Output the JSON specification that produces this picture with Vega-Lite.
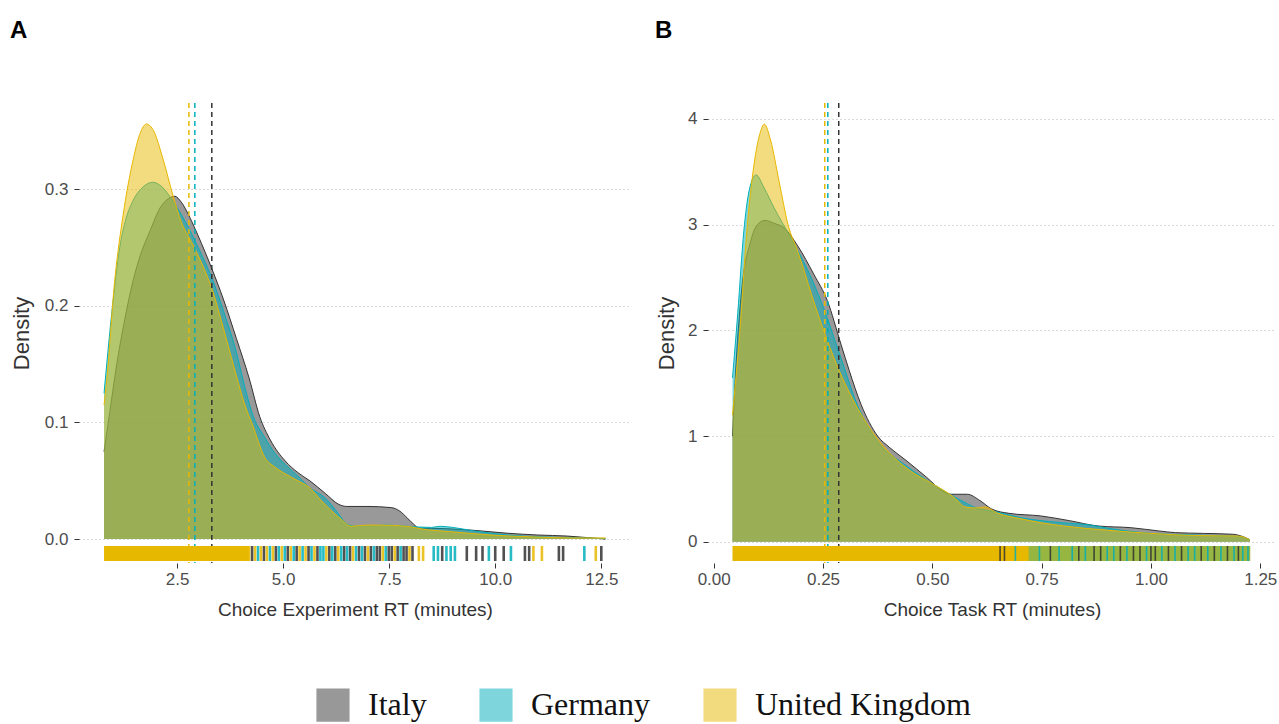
{
  "$schema": "https://vega.github.io/schema/vega-lite/v6.json",
  "padding": {"left": 10, "top": 19, "right": 6, "bottom": 0},
  "background": "white",
  "config": {
    "view": {"stroke": null},
    "font": "Liberation Sans",
    "axis": {"labelFont": "Liberation Sans", "labelFontSize": 17, "labelColor": "#4d4d4d", "titleFont": "Liberation Sans", "titleFontSize": 19, "titleFontWeight": "normal", "titleColor": "#333333", "domain": false, "tickColor": "#333333", "tickSize": 5, "grid": false},
    "axisY": {"grid": true, "gridDash": [1, 3], "gridColor": "#b5b5b5", "labelPadding": 6, "titleFontSize": 22},
    "axisX": {"labelPadding": 3, "titlePadding": 13},
    "legend": {"orient": "bottom", "direction": "horizontal", "title": null, "symbolType": "square", "symbolSize": 1000, "labelFont": "Liberation Serif", "labelFontSize": 32, "labelColor": "#111111", "labelOffset": 18, "labelLimit": 400, "columnPadding": 50, "offset": 69, "layout": {"bottom": {"anchor": "middle"}}}
  },
  "datasets": {
    "densA": [
      {"country":"Italy","x":0.78,"d":0.075},{"country":"Italy","x":0.9,"d":0.105},{"country":"Italy","x":1.08,"d":0.15},{"country":"Italy","x":1.25,"d":0.185},{"country":"Italy","x":1.46,"d":0.221},{"country":"Italy","x":1.65,"d":0.245},{"country":"Italy","x":1.86,"d":0.264},{"country":"Italy","x":2.1,"d":0.284},{"country":"Italy","x":2.3,"d":0.292},{"country":"Italy","x":2.45,"d":0.294},{"country":"Italy","x":2.6,"d":0.289},{"country":"Italy","x":2.8,"d":0.276},{"country":"Italy","x":3.0,"d":0.26},{"country":"Italy","x":3.32,"d":0.232},{"country":"Italy","x":3.6,"d":0.205},{"country":"Italy","x":3.9,"d":0.172},{"country":"Italy","x":4.2,"d":0.138},{"country":"Italy","x":4.45,"d":0.105},{"country":"Italy","x":4.7,"d":0.085},{"country":"Italy","x":5.05,"d":0.067},{"country":"Italy","x":5.35,"d":0.057},{"country":"Italy","x":5.63,"d":0.05},{"country":"Italy","x":6.0,"d":0.039},{"country":"Italy","x":6.3,"d":0.03},{"country":"Italy","x":6.5,"d":0.028},{"country":"Italy","x":7.0,"d":0.028},{"country":"Italy","x":7.55,"d":0.027},{"country":"Italy","x":7.75,"d":0.024},{"country":"Italy","x":7.93,"d":0.018},{"country":"Italy","x":8.1,"d":0.012},{"country":"Italy","x":8.2,"d":0.0095},{"country":"Italy","x":8.8,"d":0.009},{"country":"Italy","x":9.5,"d":0.0075},{"country":"Italy","x":10.3,"d":0.005},{"country":"Italy","x":11.0,"d":0.0035},{"country":"Italy","x":11.7,"d":0.0026},{"country":"Italy","x":12.2,"d":0.0012},{"country":"Italy","x":12.6,"d":0.0},
      {"country":"Germany","x":0.78,"d":0.125},{"country":"Germany","x":0.96,"d":0.193},{"country":"Germany","x":1.15,"d":0.25},{"country":"Germany","x":1.3,"d":0.275},{"country":"Germany","x":1.46,"d":0.29},{"country":"Germany","x":1.7,"d":0.302},{"country":"Germany","x":1.93,"d":0.306},{"country":"Germany","x":2.15,"d":0.302},{"country":"Germany","x":2.4,"d":0.29},{"country":"Germany","x":2.7,"d":0.272},{"country":"Germany","x":3.0,"d":0.25},{"country":"Germany","x":3.32,"d":0.224},{"country":"Germany","x":3.6,"d":0.195},{"country":"Germany","x":3.9,"d":0.16},{"country":"Germany","x":4.1,"d":0.13},{"country":"Germany","x":4.3,"d":0.105},{"country":"Germany","x":4.57,"d":0.087},{"country":"Germany","x":4.8,"d":0.074},{"country":"Germany","x":5.05,"d":0.064},{"country":"Germany","x":5.35,"d":0.054},{"country":"Germany","x":5.63,"d":0.044},{"country":"Germany","x":6.0,"d":0.035},{"country":"Germany","x":6.3,"d":0.022},{"country":"Germany","x":6.5,"d":0.013},{"country":"Germany","x":6.7,"d":0.011},{"country":"Germany","x":7.45,"d":0.012},{"country":"Germany","x":7.9,"d":0.011},{"country":"Germany","x":8.5,"d":0.01},{"country":"Germany","x":8.7,"d":0.011},{"country":"Germany","x":9.0,"d":0.01},{"country":"Germany","x":9.5,"d":0.007},{"country":"Germany","x":10.3,"d":0.0035},{"country":"Germany","x":11.0,"d":0.002},{"country":"Germany","x":12.0,"d":0.001},{"country":"Germany","x":12.6,"d":0.0005},
      {"country":"United Kingdom","x":0.78,"d":0.115},{"country":"United Kingdom","x":0.84,"d":0.135},{"country":"United Kingdom","x":1.03,"d":0.221},{"country":"United Kingdom","x":1.23,"d":0.278},{"country":"United Kingdom","x":1.47,"d":0.326},{"country":"United Kingdom","x":1.62,"d":0.347},{"country":"United Kingdom","x":1.78,"d":0.356},{"country":"United Kingdom","x":1.95,"d":0.35},{"country":"United Kingdom","x":2.17,"d":0.326},{"country":"United Kingdom","x":2.41,"d":0.294},{"country":"United Kingdom","x":2.6,"d":0.272},{"country":"United Kingdom","x":2.84,"d":0.255},{"country":"United Kingdom","x":3.1,"d":0.235},{"country":"United Kingdom","x":3.32,"d":0.215},{"country":"United Kingdom","x":3.6,"d":0.18},{"country":"United Kingdom","x":3.9,"d":0.14},{"country":"United Kingdom","x":4.1,"d":0.115},{"country":"United Kingdom","x":4.28,"d":0.098},{"country":"United Kingdom","x":4.57,"d":0.07},{"country":"United Kingdom","x":4.8,"d":0.062},{"country":"United Kingdom","x":5.05,"d":0.056},{"country":"United Kingdom","x":5.35,"d":0.05},{"country":"United Kingdom","x":5.63,"d":0.044},{"country":"United Kingdom","x":5.9,"d":0.033},{"country":"United Kingdom","x":6.15,"d":0.024},{"country":"United Kingdom","x":6.4,"d":0.016},{"country":"United Kingdom","x":6.6,"d":0.011},{"country":"United Kingdom","x":7.0,"d":0.012},{"country":"United Kingdom","x":7.3,"d":0.012},{"country":"United Kingdom","x":7.9,"d":0.011},{"country":"United Kingdom","x":8.4,"d":0.008},{"country":"United Kingdom","x":8.9,"d":0.0065},{"country":"United Kingdom","x":9.9,"d":0.0035},{"country":"United Kingdom","x":10.8,"d":0.002},{"country":"United Kingdom","x":11.8,"d":0.001},{"country":"United Kingdom","x":12.6,"d":0.001}
    ],
    "densB": [
      {"country":"Italy","x":0.043,"d":1.0},{"country":"Italy","x":0.05,"d":1.6},{"country":"Italy","x":0.062,"d":2.3},{"country":"Italy","x":0.085,"d":2.85},{"country":"Italy","x":0.1,"d":3.0},{"country":"Italy","x":0.117,"d":3.04},{"country":"Italy","x":0.14,"d":3.01},{"country":"Italy","x":0.161,"d":2.97},{"country":"Italy","x":0.192,"d":2.8},{"country":"Italy","x":0.229,"d":2.53},{"country":"Italy","x":0.26,"d":2.28},{"country":"Italy","x":0.291,"d":1.87},{"country":"Italy","x":0.31,"d":1.62},{"country":"Italy","x":0.337,"d":1.3},{"country":"Italy","x":0.375,"d":1.0},{"country":"Italy","x":0.403,"d":0.89},{"country":"Italy","x":0.44,"d":0.77},{"country":"Italy","x":0.487,"d":0.61},{"country":"Italy","x":0.524,"d":0.48},{"country":"Italy","x":0.543,"d":0.45},{"country":"Italy","x":0.58,"d":0.45},{"country":"Italy","x":0.609,"d":0.39},{"country":"Italy","x":0.636,"d":0.31},{"country":"Italy","x":0.675,"d":0.27},{"country":"Italy","x":0.748,"d":0.245},{"country":"Italy","x":0.814,"d":0.2},{"country":"Italy","x":0.879,"d":0.15},{"country":"Italy","x":0.954,"d":0.134},{"country":"Italy","x":1.018,"d":0.103},{"country":"Italy","x":1.056,"d":0.087},{"country":"Italy","x":1.12,"d":0.08},{"country":"Italy","x":1.187,"d":0.072},{"country":"Italy","x":1.21,"d":0.05},{"country":"Italy","x":1.226,"d":0.02},
      {"country":"Germany","x":0.043,"d":1.55},{"country":"Germany","x":0.055,"d":2.16},{"country":"Germany","x":0.069,"d":2.94},{"country":"Germany","x":0.081,"d":3.32},{"country":"Germany","x":0.097,"d":3.47},{"country":"Germany","x":0.115,"d":3.35},{"country":"Germany","x":0.138,"d":3.16},{"country":"Germany","x":0.177,"d":2.87},{"country":"Germany","x":0.215,"d":2.57},{"country":"Germany","x":0.245,"d":2.28},{"country":"Germany","x":0.29,"d":1.75},{"country":"Germany","x":0.328,"d":1.3},{"country":"Germany","x":0.375,"d":0.95},{"country":"Germany","x":0.44,"d":0.72},{"country":"Germany","x":0.5,"d":0.55},{"country":"Germany","x":0.54,"d":0.45},{"country":"Germany","x":0.58,"d":0.36},{"country":"Germany","x":0.6,"d":0.32},{"country":"Germany","x":0.64,"d":0.29},{"country":"Germany","x":0.7,"d":0.23},{"country":"Germany","x":0.8,"d":0.18},{"country":"Germany","x":0.86,"d":0.16},{"country":"Germany","x":0.9,"d":0.13},{"country":"Germany","x":1.0,"d":0.08},{"country":"Germany","x":1.1,"d":0.065},{"country":"Germany","x":1.2,"d":0.05},{"country":"Germany","x":1.226,"d":0.02},
      {"country":"United Kingdom","x":0.043,"d":1.2},{"country":"United Kingdom","x":0.06,"d":2.0},{"country":"United Kingdom","x":0.075,"d":2.9},{"country":"United Kingdom","x":0.09,"d":3.5},{"country":"United Kingdom","x":0.105,"d":3.85},{"country":"United Kingdom","x":0.116,"d":3.95},{"country":"United Kingdom","x":0.13,"d":3.8},{"country":"United Kingdom","x":0.15,"d":3.4},{"country":"United Kingdom","x":0.17,"d":3.0},{"country":"United Kingdom","x":0.192,"d":2.75},{"country":"United Kingdom","x":0.238,"d":2.16},{"country":"United Kingdom","x":0.275,"d":1.74},{"country":"United Kingdom","x":0.3,"d":1.5},{"country":"United Kingdom","x":0.35,"d":1.12},{"country":"United Kingdom","x":0.4,"d":0.85},{"country":"United Kingdom","x":0.45,"d":0.67},{"country":"United Kingdom","x":0.5,"d":0.55},{"country":"United Kingdom","x":0.55,"d":0.42},{"country":"United Kingdom","x":0.575,"d":0.33},{"country":"United Kingdom","x":0.6,"d":0.32},{"country":"United Kingdom","x":0.62,"d":0.33},{"country":"United Kingdom","x":0.65,"d":0.27},{"country":"United Kingdom","x":0.7,"d":0.22},{"country":"United Kingdom","x":0.75,"d":0.18},{"country":"United Kingdom","x":0.8,"d":0.15},{"country":"United Kingdom","x":0.9,"d":0.11},{"country":"United Kingdom","x":1.0,"d":0.08},{"country":"United Kingdom","x":1.1,"d":0.06},{"country":"United Kingdom","x":1.2,"d":0.055},{"country":"United Kingdom","x":1.226,"d":0.02}
    ],
    "meanA": [{"country":"Italy","x":3.32},{"country":"Germany","x":2.92},{"country":"United Kingdom","x":2.78}],
    "meanB": [{"country":"Italy","x":0.286},{"country":"Germany","x":0.261},{"country":"United Kingdom","x":0.254}],
    "bandA": [{"country":"United Kingdom","x":0.78,"x2":4.2}],
    "bandB": [{"country":"United Kingdom","x":0.043,"x2":1.227},{"country":"Germany","x":0.72,"x2":1.227}],
    "rugA": [
      {"country":"United Kingdom","x":4.2},{"country":"Italy","x":4.27},{"country":"United Kingdom","x":4.34},{"country":"Germany","x":4.41},{"country":"United Kingdom","x":4.48},{"country":"Italy","x":4.55},{"country":"United Kingdom","x":4.62},{"country":"Germany","x":4.69},{"country":"United Kingdom","x":4.76},{"country":"Italy","x":4.83},{"country":"Germany","x":4.9},{"country":"United Kingdom","x":4.97},{"country":"Germany","x":5.04},{"country":"Italy","x":5.11},{"country":"United Kingdom","x":5.18},{"country":"Germany","x":5.25},{"country":"Italy","x":5.32},{"country":"United Kingdom","x":5.39},{"country":"Germany","x":5.46},{"country":"United Kingdom","x":5.53},{"country":"Italy","x":5.6},{"country":"Germany","x":5.67},{"country":"United Kingdom","x":5.74},{"country":"Italy","x":5.81},{"country":"Germany","x":5.88},{"country":"Germany","x":5.95},{"country":"United Kingdom","x":6.02},{"country":"Italy","x":6.09},{"country":"Germany","x":6.16},{"country":"Italy","x":6.23},{"country":"United Kingdom","x":6.3},{"country":"Germany","x":6.37},{"country":"Italy","x":6.44},{"country":"Germany","x":6.51},{"country":"Italy","x":6.58},{"country":"United Kingdom","x":6.65},{"country":"Germany","x":6.72},{"country":"Italy","x":6.79},{"country":"Germany","x":6.86},{"country":"Italy","x":6.93},{"country":"United Kingdom","x":7.0},{"country":"Italy","x":7.07},{"country":"Germany","x":7.14},{"country":"Italy","x":7.21},{"country":"Italy","x":7.28},{"country":"United Kingdom","x":7.35},{"country":"Germany","x":7.42},{"country":"Italy","x":7.49},{"country":"Italy","x":7.56},{"country":"United Kingdom","x":7.63},{"country":"Italy","x":7.7},{"country":"Germany","x":7.77},{"country":"Italy","x":7.84},{"country":"Italy","x":7.91},{"country":"United Kingdom","x":7.98},{"country":"Italy","x":8.05},
      {"country":"United Kingdom","x":8.2},{"country":"United Kingdom","x":8.3},{"country":"Germany","x":8.55},{"country":"Germany","x":8.65},{"country":"Italy","x":8.75},{"country":"Germany","x":8.85},{"country":"Germany","x":8.95},{"country":"Germany","x":9.05},{"country":"Italy","x":9.33},{"country":"Italy","x":9.55},{"country":"Italy","x":9.7},{"country":"Germany","x":9.85},{"country":"Italy","x":10.0},{"country":"Italy","x":10.2},{"country":"Germany","x":10.37},{"country":"Italy","x":10.7},{"country":"Italy","x":10.8},{"country":"United Kingdom","x":10.9},{"country":"United Kingdom","x":11.1},{"country":"Italy","x":11.5},{"country":"Italy","x":11.6},{"country":"Germany","x":12.1},{"country":"United Kingdom","x":12.37},{"country":"Italy","x":12.5}
    ],
    "rugB": [
      {"country":"Italy","x":0.655},{"country":"Italy","x":0.665},{"country":"Germany","x":0.69},{"country":"Germany","x":0.745},{"country":"Italy","x":0.77},{"country":"Germany","x":0.79},{"country":"Germany","x":0.82},{"country":"Italy","x":0.835},{"country":"Germany","x":0.85},{"country":"Italy","x":0.87},{"country":"Italy","x":0.885},{"country":"Germany","x":0.9},{"country":"Germany","x":0.915},{"country":"Italy","x":0.93},{"country":"Germany","x":0.945},{"country":"Italy","x":0.96},{"country":"Italy","x":0.975},{"country":"Germany","x":0.99},{"country":"Italy","x":1.0},{"country":"Italy","x":1.01},{"country":"Germany","x":1.025},{"country":"Italy","x":1.04},{"country":"Germany","x":1.055},{"country":"Italy","x":1.07},{"country":"Germany","x":1.085},{"country":"Germany","x":1.1},{"country":"Italy","x":1.115},{"country":"Germany","x":1.13},{"country":"Italy","x":1.145},{"country":"Germany","x":1.16},{"country":"Italy","x":1.175},{"country":"Germany","x":1.19},{"country":"Italy","x":1.2},{"country":"Germany","x":1.21},{"country":"Germany","x":1.222}
    ]
  },
  "resolve": {"scale": {"color": "shared"}, "legend": {"color": "shared"}},
  "spacing": 24,
  "hconcat": [
    {
      "width": 552, "height": 460,
      "title": {"text": "A", "anchor": "start", "frame": "group", "dx": -69, "offset": 59, "fontSize": 24, "fontWeight": "bold", "font": "Liberation Sans", "color": "#000000"},
      "encoding": {"x": {"field": "x", "type": "quantitative", "scale": {"domain": [0.19, 13.2], "nice": false, "zero": false}, "axis": {"title": "Choice Experiment RT (minutes)", "values": [2.5, 5, 7.5, 10, 12.5], "format": ".1f"}}},
      "layer": [
        {"data": {"name": "densA"}, "transform": [{"filter": "datum.country === 'Italy'"}], "mark": {"type": "area", "opacity": 0.5, "interpolate": "monotone"},
         "encoding": {"y": {"field": "d", "type": "quantitative", "scale": {"domain": [-0.0205, 0.374], "nice": false, "zero": false}, "axis": {"title": "Density", "values": [0, 0.1, 0.2, 0.3], "format": ".1f", "titlePadding": 11}},
                      "color": {"field": "country", "type": "nominal", "scale": {"domain": ["Italy", "Germany", "United Kingdom"], "range": ["#333333", "#00AFBB", "#E7B800"]}, "legend": {"title": null, "symbolType": "square"}}}},
        {"data": {"name": "densA"}, "transform": [{"filter": "datum.country === 'Italy'"}], "mark": {"type": "line", "strokeWidth": 1, "interpolate": "monotone"},
         "encoding": {"y": {"field": "d", "type": "quantitative", "scale": {"domain": [-0.0205, 0.374], "nice": false, "zero": false}, "axis": {"title": "Density", "values": [0, 0.1, 0.2, 0.3], "format": ".1f", "titlePadding": 11}},
                      "color": {"field": "country", "type": "nominal", "scale": {"domain": ["Italy", "Germany", "United Kingdom"], "range": ["#333333", "#00AFBB", "#E7B800"]}, "legend": null}}},
        {"data": {"name": "densA"}, "transform": [{"filter": "datum.country === 'Germany'"}], "mark": {"type": "area", "opacity": 0.5, "interpolate": "monotone"},
         "encoding": {"y": {"field": "d", "type": "quantitative", "scale": {"domain": [-0.0205, 0.374], "nice": false, "zero": false}, "axis": {"title": "Density", "values": [0, 0.1, 0.2, 0.3], "format": ".1f", "titlePadding": 11}},
                      "color": {"field": "country", "type": "nominal", "scale": {"domain": ["Italy", "Germany", "United Kingdom"], "range": ["#333333", "#00AFBB", "#E7B800"]}, "legend": {"title": null, "symbolType": "square"}}}},
        {"data": {"name": "densA"}, "transform": [{"filter": "datum.country === 'Germany'"}], "mark": {"type": "line", "strokeWidth": 1, "interpolate": "monotone"},
         "encoding": {"y": {"field": "d", "type": "quantitative", "scale": {"domain": [-0.0205, 0.374], "nice": false, "zero": false}, "axis": {"title": "Density", "values": [0, 0.1, 0.2, 0.3], "format": ".1f", "titlePadding": 11}},
                      "color": {"field": "country", "type": "nominal", "scale": {"domain": ["Italy", "Germany", "United Kingdom"], "range": ["#333333", "#00AFBB", "#E7B800"]}, "legend": null}}},
        {"data": {"name": "densA"}, "transform": [{"filter": "datum.country === 'United Kingdom'"}], "mark": {"type": "area", "opacity": 0.5, "interpolate": "monotone"},
         "encoding": {"y": {"field": "d", "type": "quantitative", "scale": {"domain": [-0.0205, 0.374], "nice": false, "zero": false}, "axis": {"title": "Density", "values": [0, 0.1, 0.2, 0.3], "format": ".1f", "titlePadding": 11}},
                      "color": {"field": "country", "type": "nominal", "scale": {"domain": ["Italy", "Germany", "United Kingdom"], "range": ["#333333", "#00AFBB", "#E7B800"]}, "legend": {"title": null, "symbolType": "square"}}}},
        {"data": {"name": "densA"}, "transform": [{"filter": "datum.country === 'United Kingdom'"}], "mark": {"type": "line", "strokeWidth": 1, "interpolate": "monotone"},
         "encoding": {"y": {"field": "d", "type": "quantitative", "scale": {"domain": [-0.0205, 0.374], "nice": false, "zero": false}, "axis": {"title": "Density", "values": [0, 0.1, 0.2, 0.3], "format": ".1f", "titlePadding": 11}},
                      "color": {"field": "country", "type": "nominal", "scale": {"domain": ["Italy", "Germany", "United Kingdom"], "range": ["#333333", "#00AFBB", "#E7B800"]}, "legend": null}}},
        {"data": {"name": "meanA"}, "mark": {"type": "rule", "strokeDash": [5, 4], "strokeWidth": 1.5},
         "encoding": {"color": {"field": "country", "type": "nominal", "scale": {"domain": ["Italy", "Germany", "United Kingdom"], "range": ["#333333", "#00AFBB", "#E7B800"]}, "legend": null}}},
        {"data": {"name": "bandA"}, "mark": {"type": "rect", "opacity": 1},
         "encoding": {"x2": {"field": "x2"},
                      "y": {"datum": -0.0059, "type": "quantitative", "scale": {"domain": [-0.0205, 0.374], "nice": false, "zero": false}, "axis": {"title": "Density", "values": [0, 0.1, 0.2, 0.3], "format": ".1f", "titlePadding": 11}},
                      "y2": {"datum": -0.0188},
                      "color": {"field": "country", "type": "nominal", "scale": {"domain": ["Italy", "Germany", "United Kingdom"], "range": ["#333333", "#00AFBB", "#E7B800"]}, "legend": null}}},
        {"data": {"name": "rugA"}, "mark": {"type": "rule", "strokeWidth": 2.6, "opacity": 0.85},
         "encoding": {"y": {"datum": -0.0059, "type": "quantitative", "scale": {"domain": [-0.0205, 0.374], "nice": false, "zero": false}, "axis": {"title": "Density", "values": [0, 0.1, 0.2, 0.3], "format": ".1f", "titlePadding": 11}},
                      "y2": {"datum": -0.0188},
                      "color": {"field": "country", "type": "nominal", "scale": {"domain": ["Italy", "Germany", "United Kingdom"], "range": ["#333333", "#00AFBB", "#E7B800"]}, "legend": null}}}
      ]
    },
    {
      "width": 568, "height": 460,
      "title": {"text": "B", "anchor": "start", "frame": "group", "dx": -53, "offset": 59, "fontSize": 24, "fontWeight": "bold", "font": "Liberation Sans", "color": "#000000"},
      "encoding": {"x": {"field": "x", "type": "quantitative", "scale": {"domain": [-0.013, 1.286], "nice": false, "zero": false}, "axis": {"title": "Choice Task RT (minutes)", "values": [0, 0.25, 0.5, 0.75, 1, 1.25], "format": ".2f"}}},
      "layer": [
        {"data": {"name": "densB"}, "transform": [{"filter": "datum.country === 'Italy'"}], "mark": {"type": "area", "opacity": 0.5, "interpolate": "monotone"},
         "encoding": {"y": {"field": "d", "type": "quantitative", "scale": {"domain": [-0.2, 4.15], "nice": false, "zero": false}, "axis": {"title": "Density", "values": [0, 1, 2, 3, 4], "format": "d", "titlePadding": 9}},
                      "color": {"field": "country", "type": "nominal", "scale": {"domain": ["Italy", "Germany", "United Kingdom"], "range": ["#333333", "#00AFBB", "#E7B800"]}, "legend": {"title": null, "symbolType": "square"}}}},
        {"data": {"name": "densB"}, "transform": [{"filter": "datum.country === 'Italy'"}], "mark": {"type": "line", "strokeWidth": 1, "interpolate": "monotone"},
         "encoding": {"y": {"field": "d", "type": "quantitative", "scale": {"domain": [-0.2, 4.15], "nice": false, "zero": false}, "axis": {"title": "Density", "values": [0, 1, 2, 3, 4], "format": "d", "titlePadding": 9}},
                      "color": {"field": "country", "type": "nominal", "scale": {"domain": ["Italy", "Germany", "United Kingdom"], "range": ["#333333", "#00AFBB", "#E7B800"]}, "legend": null}}},
        {"data": {"name": "densB"}, "transform": [{"filter": "datum.country === 'Germany'"}], "mark": {"type": "area", "opacity": 0.5, "interpolate": "monotone"},
         "encoding": {"y": {"field": "d", "type": "quantitative", "scale": {"domain": [-0.2, 4.15], "nice": false, "zero": false}, "axis": {"title": "Density", "values": [0, 1, 2, 3, 4], "format": "d", "titlePadding": 9}},
                      "color": {"field": "country", "type": "nominal", "scale": {"domain": ["Italy", "Germany", "United Kingdom"], "range": ["#333333", "#00AFBB", "#E7B800"]}, "legend": {"title": null, "symbolType": "square"}}}},
        {"data": {"name": "densB"}, "transform": [{"filter": "datum.country === 'Germany'"}], "mark": {"type": "line", "strokeWidth": 1, "interpolate": "monotone"},
         "encoding": {"y": {"field": "d", "type": "quantitative", "scale": {"domain": [-0.2, 4.15], "nice": false, "zero": false}, "axis": {"title": "Density", "values": [0, 1, 2, 3, 4], "format": "d", "titlePadding": 9}},
                      "color": {"field": "country", "type": "nominal", "scale": {"domain": ["Italy", "Germany", "United Kingdom"], "range": ["#333333", "#00AFBB", "#E7B800"]}, "legend": null}}},
        {"data": {"name": "densB"}, "transform": [{"filter": "datum.country === 'United Kingdom'"}], "mark": {"type": "area", "opacity": 0.5, "interpolate": "monotone"},
         "encoding": {"y": {"field": "d", "type": "quantitative", "scale": {"domain": [-0.2, 4.15], "nice": false, "zero": false}, "axis": {"title": "Density", "values": [0, 1, 2, 3, 4], "format": "d", "titlePadding": 9}},
                      "color": {"field": "country", "type": "nominal", "scale": {"domain": ["Italy", "Germany", "United Kingdom"], "range": ["#333333", "#00AFBB", "#E7B800"]}, "legend": {"title": null, "symbolType": "square"}}}},
        {"data": {"name": "densB"}, "transform": [{"filter": "datum.country === 'United Kingdom'"}], "mark": {"type": "line", "strokeWidth": 1, "interpolate": "monotone"},
         "encoding": {"y": {"field": "d", "type": "quantitative", "scale": {"domain": [-0.2, 4.15], "nice": false, "zero": false}, "axis": {"title": "Density", "values": [0, 1, 2, 3, 4], "format": "d", "titlePadding": 9}},
                      "color": {"field": "country", "type": "nominal", "scale": {"domain": ["Italy", "Germany", "United Kingdom"], "range": ["#333333", "#00AFBB", "#E7B800"]}, "legend": null}}},
        {"data": {"name": "meanB"}, "mark": {"type": "rule", "strokeDash": [5, 4], "strokeWidth": 1.5},
         "encoding": {"color": {"field": "country", "type": "nominal", "scale": {"domain": ["Italy", "Germany", "United Kingdom"], "range": ["#333333", "#00AFBB", "#E7B800"]}, "legend": null}}},
        {"data": {"name": "bandB"}, "transform": [{"filter": "datum.country === 'United Kingdom'"}], "mark": {"type": "rect", "opacity": 1},
         "encoding": {"x2": {"field": "x2"},
                      "y": {"datum": -0.039, "type": "quantitative", "scale": {"domain": [-0.2, 4.15], "nice": false, "zero": false}, "axis": {"title": "Density", "values": [0, 1, 2, 3, 4], "format": "d", "titlePadding": 9}},
                      "y2": {"datum": -0.18},
                      "color": {"field": "country", "type": "nominal", "scale": {"domain": ["Italy", "Germany", "United Kingdom"], "range": ["#333333", "#00AFBB", "#E7B800"]}, "legend": null}}},
        {"data": {"name": "bandB"}, "transform": [{"filter": "datum.country === 'Germany'"}], "mark": {"type": "rect", "opacity": 0.35},
         "encoding": {"x2": {"field": "x2"},
                      "y": {"datum": -0.039, "type": "quantitative", "scale": {"domain": [-0.2, 4.15], "nice": false, "zero": false}, "axis": {"title": "Density", "values": [0, 1, 2, 3, 4], "format": "d", "titlePadding": 9}},
                      "y2": {"datum": -0.18},
                      "color": {"field": "country", "type": "nominal", "scale": {"domain": ["Italy", "Germany", "United Kingdom"], "range": ["#333333", "#00AFBB", "#E7B800"]}, "legend": null}}},
        {"data": {"name": "rugB"}, "mark": {"type": "rule", "strokeWidth": 1.6, "opacity": 0.85},
         "encoding": {"y": {"datum": -0.039, "type": "quantitative", "scale": {"domain": [-0.2, 4.15], "nice": false, "zero": false}, "axis": {"title": "Density", "values": [0, 1, 2, 3, 4], "format": "d", "titlePadding": 9}},
                      "y2": {"datum": -0.18},
                      "color": {"field": "country", "type": "nominal", "scale": {"domain": ["Italy", "Germany", "United Kingdom"], "range": ["#333333", "#00AFBB", "#E7B800"]}, "legend": null}}}
      ]
    }
  ]
}
